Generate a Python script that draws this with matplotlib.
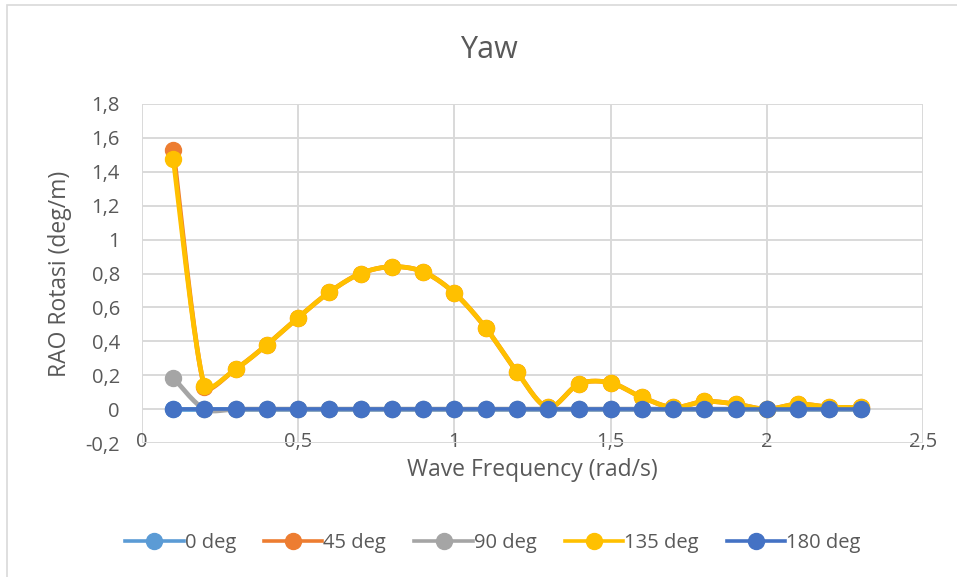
import numpy as np
import matplotlib.pyplot as plt
from matplotlib.patches import Rectangle
from matplotlib.ticker import FuncFormatter

plt.rcParams['font.family'] = ['Open Sans', 'DejaVu Sans']

freq = [0.1, 0.2, 0.3, 0.4, 0.5, 0.6, 0.7, 0.8, 0.9, 1.0, 1.1, 1.2,
        1.3, 1.4, 1.5, 1.6, 1.7, 1.8, 1.9, 2.0, 2.1, 2.2, 2.3]

rao_0 = [0.0] * 23
rao_45 = [1.53, 0.13, 0.236, 0.38, 0.54, 0.69, 0.80, 0.84, 0.81, 0.685, 0.48, 0.22,
          0.01, 0.15, 0.155, 0.07, 0.01, 0.045, 0.03, 0.0, 0.03, 0.012, 0.01]
rao_90 = [0.185, 0.0, 0.0, 0.0, 0.0, 0.0, 0.0, 0.0, 0.0, 0.0, 0.0, 0.0,
          0.0, 0.0, 0.0, 0.0, 0.0, 0.0, 0.0, 0.0, 0.0, 0.0, 0.0]
rao_135 = [1.475, 0.136, 0.236, 0.38, 0.54, 0.69, 0.80, 0.84, 0.81, 0.685, 0.48, 0.22,
           0.01, 0.15, 0.155, 0.07, 0.01, 0.045, 0.03, 0.0, 0.03, 0.012, 0.01]
rao_180 = [0.0] * 23

labels = ['0 deg', '45 deg', '90 deg', '135 deg', '180 deg']
colors = ['#5B9BD5', '#ED7D31', '#A5A5A5', '#FFC000', '#4472C4']
series = [rao_0, rao_45, rao_90, rao_135, rao_180]

GREY = '#595959'


def smooth(x, y, n=24, sx=312.0, sy=169.0):
    # Excel-like smoothed line: bezier segments, short sides get shorter handles
    x = np.asarray(x, float)
    y = np.asarray(y, float)
    m = len(x)
    d = np.hypot(np.diff(x) * sx, np.diff(y) * sy) + 1e-9
    xs, ys = [], []
    t = np.linspace(0, 1, n)
    for i in range(m - 1):
        i0, i3 = max(i - 1, 0), min(i + 2, m - 1)
        w1 = min(1.0, 2 * d[i] / (d[i - 1] + d[i])) / 6 if i > 0 else 1 / 6
        w2 = min(1.0, 2 * d[i] / (d[i] + d[i + 1])) / 6 if i + 2 < m else 1 / 6
        c1x = x[i] + (x[i + 1] - x[i0]) * w1
        c1y = y[i] + (y[i + 1] - y[i0]) * w1
        c2x = x[i + 1] - (x[i3] - x[i]) * w2
        c2y = y[i + 1] - (y[i3] - y[i]) * w2
        for k, (a, b, c, e) in enumerate([(x[i], c1x, c2x, x[i + 1]), (y[i], c1y, c2y, y[i + 1])]):
            v = (1 - t) ** 3 * a + 3 * (1 - t) ** 2 * t * b + 3 * (1 - t) * t ** 2 * c + t ** 3 * e
            (xs if k == 0 else ys).extend(v)
    return xs, ys


fig = plt.figure(figsize=(9.57, 5.77), dpi=100)
ax = fig.add_axes([142 / 957, 1 - 443 / 577, (923 - 142) / 957, (443 - 104) / 577])

# chart border
fig.patches.append(Rectangle((7 / 957, -0.1), 1.2, 1 - 5 / 577 + 0.1, transform=fig.transFigure,
                             fill=False, edgecolor='#D9D9D9', linewidth=1.2))

handles = []
for vals, col, lab in zip(series, colors, labels):
    xs, ys = smooth(freq, vals)
    lw = 3.4 if lab != '180 deg' else 2.6
    ax.plot(xs, ys, color=col, linewidth=lw, solid_capstyle='round', zorder=3)
    ax.plot(freq, vals, linestyle='none', marker='o', markersize=11.5, color=col, zorder=3)
    handles.append(plt.Line2D([], [], color=col, linewidth=2.6, marker='o', markersize=11.5))

ax.set_xlim(0, 2.5)
ax.set_ylim(-0.2, 1.8)
ax.set_xticks(np.arange(0, 2.51, 0.5))
ax.set_yticks(np.arange(-0.2, 1.81, 0.2))
fmt = FuncFormatter(lambda v, p: f"{v:g}".replace('.', ',') if abs(v) > 1e-9 else '0')
ax.xaxis.set_major_formatter(fmt)
ax.yaxis.set_major_formatter(fmt)
ax.grid(True, color='#D9D9D9', linewidth=1.4)
ax.set_axisbelow(True)
for s in ax.spines.values():
    s.set_visible(False)
ax.tick_params(length=0, labelsize=14.5, colors=GREY)
ax.tick_params(axis='y', pad=16)
ax.tick_params(axis='x', pad=-8)

fig.text(489 / 957, 1 - 50 / 577, 'Yaw', fontsize=22, color=GREY, ha='center', va='center')
ax.set_xlabel('Wave Frequency (rad/s)', fontsize=16.5, color=GREY)
ax.xaxis.set_label_coords(0.5, (443 - 470) / 339)
ax.xaxis.label.set_va('center')
ax.set_ylabel('RAO Rotasi (deg/m)', fontsize=16.5, color=GREY)
ax.yaxis.set_label_coords((60 - 142) / 781, 0.5)
ax.yaxis.label.set_va('center')

fig.legend(handles, labels, loc='center', bbox_to_anchor=(0.515, 1 - 543 / 577), ncol=5,
           frameon=False, fontsize=14.5, labelcolor=GREY, handlelength=2.9,
           handletextpad=0.05, columnspacing=1.4)

fig.savefig('out.png', dpi=100)
